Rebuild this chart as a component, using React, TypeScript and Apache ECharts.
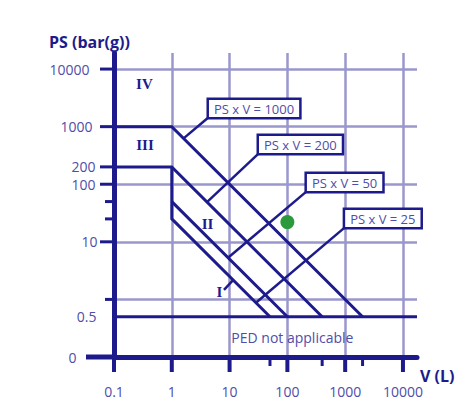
import React, { useEffect, useRef } from "react";
import * as echarts from "echarts";

// ---- axis ranges ----
const X_MIN = 0.1;
const X_MAX = 17500;
const Y_MIN = 0.1;
const Y_MAX = 19000;

// ---- ticks & tick labels ----
const xTickValues = [0.1, 1, 10, 100, 1000, 10000];
const xMinorTickValues = [50, 400, 2000];
const yMajorTickValues = [10000, 1000, 200, 100, 10];
const yMinorTickValues = [50, 25, 1];
const yLabelValues = [10000, 1000, 200, 100, 10, 0.5, 0.1];
const yLabelTexts = ["10000", "1000", "200", "100", "10", "0.5", "0"];

// ---- category boundaries (V, PS) ----
const boundary1000 = [[0.1, 1000], [1, 1000], [2000, 0.5]];
const boundary200 = [[0.1, 200], [1, 200], [400, 0.5]];
const boundary25 = [[1, 200], [1, 25], [50, 0.5]];
const boundary50 = [[1, 50], [100, 0.5]];
const pedLimit = [[0.1, 0.5], [X_MAX, 0.5]];

// ---- callouts: leader start on line, end at label box ----
const calloutTexts = ["PS x V = 1000", "PS x V = 200", "PS x V = 50", "PS x V = 25"];
const calloutStarts = [[1.6, 625], [4.06, 49], [9.4, 5.3], [28.6, 0.874]];
const calloutEnds = [[4.4, 1470], [32.3, 348], [218, 76], [1000, 18]];
const leaderI = [[11.5, 2.17], [8.0, 1.46]];

// ---- category names ----
const categoryNames = ["IV", "III", "II", "I"];
const categoryPositions = [[0.336, 5500], [0.344, 480], [4.15, 20], [6.7, 1.34]];
const pedText = "PED not applicable";
const pedPosition = [122, 0.222];

// ---- sample point ----
const samplePoint = [[100, 22]];

// ---- styles (kept apart from data) ----
const NAVY = "#1d1b8c";
const LABEL = "#4f4da8";
const GRID = "#9a97cc";
const GREEN = "#2a9a3c";
const FONT = "Open Sans";
const yLabelGap = [24, 21, 18, 18, 16, 17, 37];

function lineSeries(name: string, data: number[][], width: number) {
  return {
    name,
    type: "line",
    data,
    symbol: "none",
    clip: false,
    silent: true,
    lineStyle: { color: NAVY, width, cap: "butt", join: "miter", opacity: 1 },
    z: 3,
  };
}

function tickSeries(name: string, data: number[][], size: number[], offset: number[]) {
  return {
    name,
    type: "scatter",
    data,
    symbol: "rect",
    symbolSize: size,
    symbolOffset: offset,
    clip: false,
    silent: true,
    itemStyle: { color: NAVY, opacity: 1 },
    z: 4,
  };
}

function textSeries(name: string, data: any[], label: any, z: number) {
  return {
    name,
    type: "scatter",
    symbol: "circle",
    symbolSize: 1,
    clip: false,
    silent: true,
    itemStyle: { color: "rgba(0,0,0,0)", opacity: 1 },
    data,
    label: { show: true, ...label },
    z,
  };
}

export default function App() {
  const ref = useRef<HTMLDivElement>(null);
  useEffect(() => {
    document.body.style.margin = "0";
    if (!ref.current) return;
    const chart = echarts.init(ref.current, null, { renderer: "svg" });
    const option: any = {
      animation: false,
      title: [
        {
          text: "PS (bar(g))",
          left: 49,
          top: 32,
          padding: 0,
          textStyle: { fontFamily: FONT, fontSize: 16, fontWeight: "bold", color: NAVY, lineHeight: 20 },
        },
        {
          text: "V (L)",
          left: 420,
          top: 366,
          padding: 0,
          textStyle: { fontFamily: FONT, fontSize: 16, fontWeight: "bold", color: NAVY, lineHeight: 20 },
        },
      ],
      grid: { left: 114, right: 55, top: 53, bottom: 58, containLabel: false },
      xAxis: {
        type: "log",
        logBase: 10,
        min: X_MIN,
        max: X_MAX,
        axisLine: { show: true, onZero: false, lineStyle: { color: NAVY, width: 5 } },
        axisTick: { show: false },
        axisLabel: {
          show: true,
          margin: 27,
          color: LABEL,
          fontSize: 14,
          fontFamily: FONT,
          formatter: (v: number) => (xTickValues.some((t) => Math.abs(t - v) / t < 1e-6) ? String(v) : ""),
        },
        splitLine: { show: true, showMinLine: false, showMaxLine: false, lineStyle: { color: GRID, width: 2.5 } },
      },
      yAxis: {
        type: "log",
        logBase: 10,
        min: Y_MIN,
        max: Y_MAX,
        axisLine: { show: true, onZero: false, lineStyle: { color: NAVY, width: 5 } },
        axisTick: { show: false },
        axisLabel: { show: false },
        splitLine: { show: true, showMinLine: false, showMaxLine: false, lineStyle: { color: GRID, width: 2.5 } },
      },
      series: [
        lineSeries("PS x V = 1000", boundary1000, 3),
        lineSeries("PS x V = 200", boundary200, 3),
        lineSeries("PS x V = 25", boundary25, 3),
        lineSeries("PS x V = 50", boundary50, 3),
        lineSeries("PS = 0.5", pedLimit, 3),
        ...calloutStarts.map((s, i) => lineSeries("leader " + i, [s, calloutEnds[i]], 2.5)),
        lineSeries("leader I", leaderI, 2.5),
        {
          name: "sample",
          type: "scatter",
          data: samplePoint,
          symbol: "circle",
          symbolSize: 14,
          clip: false,
          itemStyle: { color: GREEN, opacity: 1 },
          z: 5,
        },
        tickSeries("y major ticks", yMajorTickValues.map((v) => [X_MIN, v]), [14, 3], [-7, 0]),
        tickSeries("y minor ticks", yMinorTickValues.map((v) => [X_MIN, v]), [9, 3], [-4.5, 0]),
        tickSeries("x major ticks", xTickValues.map((v) => [v, Y_MIN]), [4, 15], [0, 7.5]),
        tickSeries("x minor ticks", xMinorTickValues.map((v) => [v, Y_MIN]), [3, 9], [0, 4.5]),
        tickSeries("x axis extension", [[X_MIN, Y_MIN]], [28, 5], [-14, 0]),
        textSeries(
          "y labels",
          yLabelValues.map((v, i) => ({
            value: [X_MIN, v],
            label: { formatter: yLabelTexts[i], distance: yLabelGap[i] },
          })),
          { position: "left", color: LABEL, fontSize: 14, fontFamily: FONT },
          6
        ),
        textSeries(
          "categories",
          categoryPositions.map((p, i) => ({ value: p, label: { formatter: categoryNames[i] } })),
          { position: "inside", color: NAVY, fontSize: 15, fontWeight: "bold", fontFamily: "Liberation Serif" },
          6
        ),
        textSeries(
          "ped",
          [{ value: pedPosition, label: { formatter: pedText } }],
          { position: "inside", color: LABEL, fontSize: 14, fontFamily: FONT },
          6
        ),
        textSeries(
          "callouts",
          calloutEnds.map((p, i) => ({ value: p, label: { formatter: calloutTexts[i] } })),
          {
            position: [0.5, 0.5],
            align: "left",
            verticalAlign: "bottom",
            color: LABEL,
            fontSize: 13,
            lineHeight: 15,
            fontFamily: FONT,
            backgroundColor: "#ffffff",
            borderColor: NAVY,
            borderWidth: 2.5,
            padding: [1, 5, 1, 5],
          },
          7
        ),
      ],
    };
    chart.setOption(option);
    return () => chart.dispose();
  }, []);
  return <div ref={ref} style={{ width: 472, height: 415 }} />;
}
